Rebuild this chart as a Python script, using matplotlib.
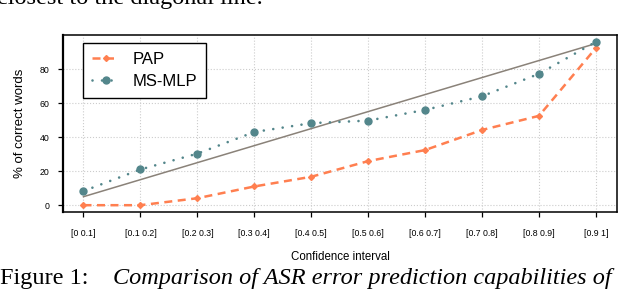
import matplotlib
matplotlib.use('Agg')
import matplotlib.pyplot as plt

# Data
intervals = ['[0 0.1]', '[0.1 0.2]', '[0.2 0.3]', '[0.3 0.4]', '[0.4 0.5]',
             '[0.5 0.6]', '[0.6 0.7]', '[0.7 0.8]', '[0.8 0.9]', '[0.9 1]']
pap = [0, 0, 4.1, 11, 16.7, 25.9, 32.4, 44.2, 52.5, 92.4]
ms_mlp = [8.3, 21, 30.3, 43, 48.2, 49.7, 56, 64, 77.2, 96]
diagonal = [5, 15, 25, 35, 45, 55, 65, 75, 85, 95]
yticks = [0, 20, 40, 60, 80]

plt.rcParams['font.family'] = ['Liberation Sans', 'DejaVu Sans']

fig = plt.figure(figsize=(6.34, 2.90), dpi=100)
ax = fig.add_axes([63 / 634, 78 / 290, 554 / 634, 177 / 290])

x = list(range(len(intervals)))
ax.plot(x, diagonal, color='#8a8279', lw=1.1, zorder=2)
ax.plot(x, pap, color='#ff7f50', ls=(0, (3.2, 2.2)), lw=1.8, marker='D',
        ms=3, label='PAP', zorder=3)
ax.plot(x, ms_mlp, color='#53868b', ls=(0, (0.01, 3.6)), lw=1.9,
        dash_capstyle='round', marker='o', ms=5, label='MS-MLP', zorder=3)

ax.set_xlim(-0.36, 9.37)
ax.set_ylim(-4, 100)
ax.set_xticks(x)
ax.set_xticklabels(intervals, fontsize=6.3)
ax.set_yticks(yticks)
ax.tick_params(axis='y', labelsize=6.3)
ax.tick_params(direction='out', length=3.5, width=0.9, pad=6)
ax.tick_params(axis='x', pad=9)
ax.grid(True, color='#cccccc', ls=':', lw=0.8)
ax.set_axisbelow(True)
for s in ax.spines.values():
    s.set_linewidth(1.1)
ax.spines['left'].set_linewidth(1.6)

ax.set_xlabel('Confidence interval', fontsize=8.3, labelpad=9)
ax.set_ylabel('% of correct words', fontsize=9.5, labelpad=10)

leg = ax.legend(loc='upper left', bbox_to_anchor=(20 / 554, 1 - 8 / 177),
                borderaxespad=0, fontsize=12, numpoints=1,
                frameon=True, fancybox=False, edgecolor='black', framealpha=1,
                handlelength=1.6, borderpad=0.55, labelspacing=0.42,
                handletextpad=0.8)
leg.get_frame().set_linewidth(1.0)

# surrounding paper text
fig.text(-0.004, 1 - 4 / 290, 'closest to the diagonal line.', fontsize=17.5,
         family='Liberation Serif', va='baseline')
fig.text(0.0, 6 / 290, 'Figure 1:', fontsize=17.5,
         family='Liberation Serif', va='baseline')
fig.text(113 / 634, 6 / 290, 'Comparison of ASR error prediction capabilities of',
         fontsize=17.5, family='Liberation Serif', style='italic', va='baseline')

fig.savefig('out.png', dpi=100)
